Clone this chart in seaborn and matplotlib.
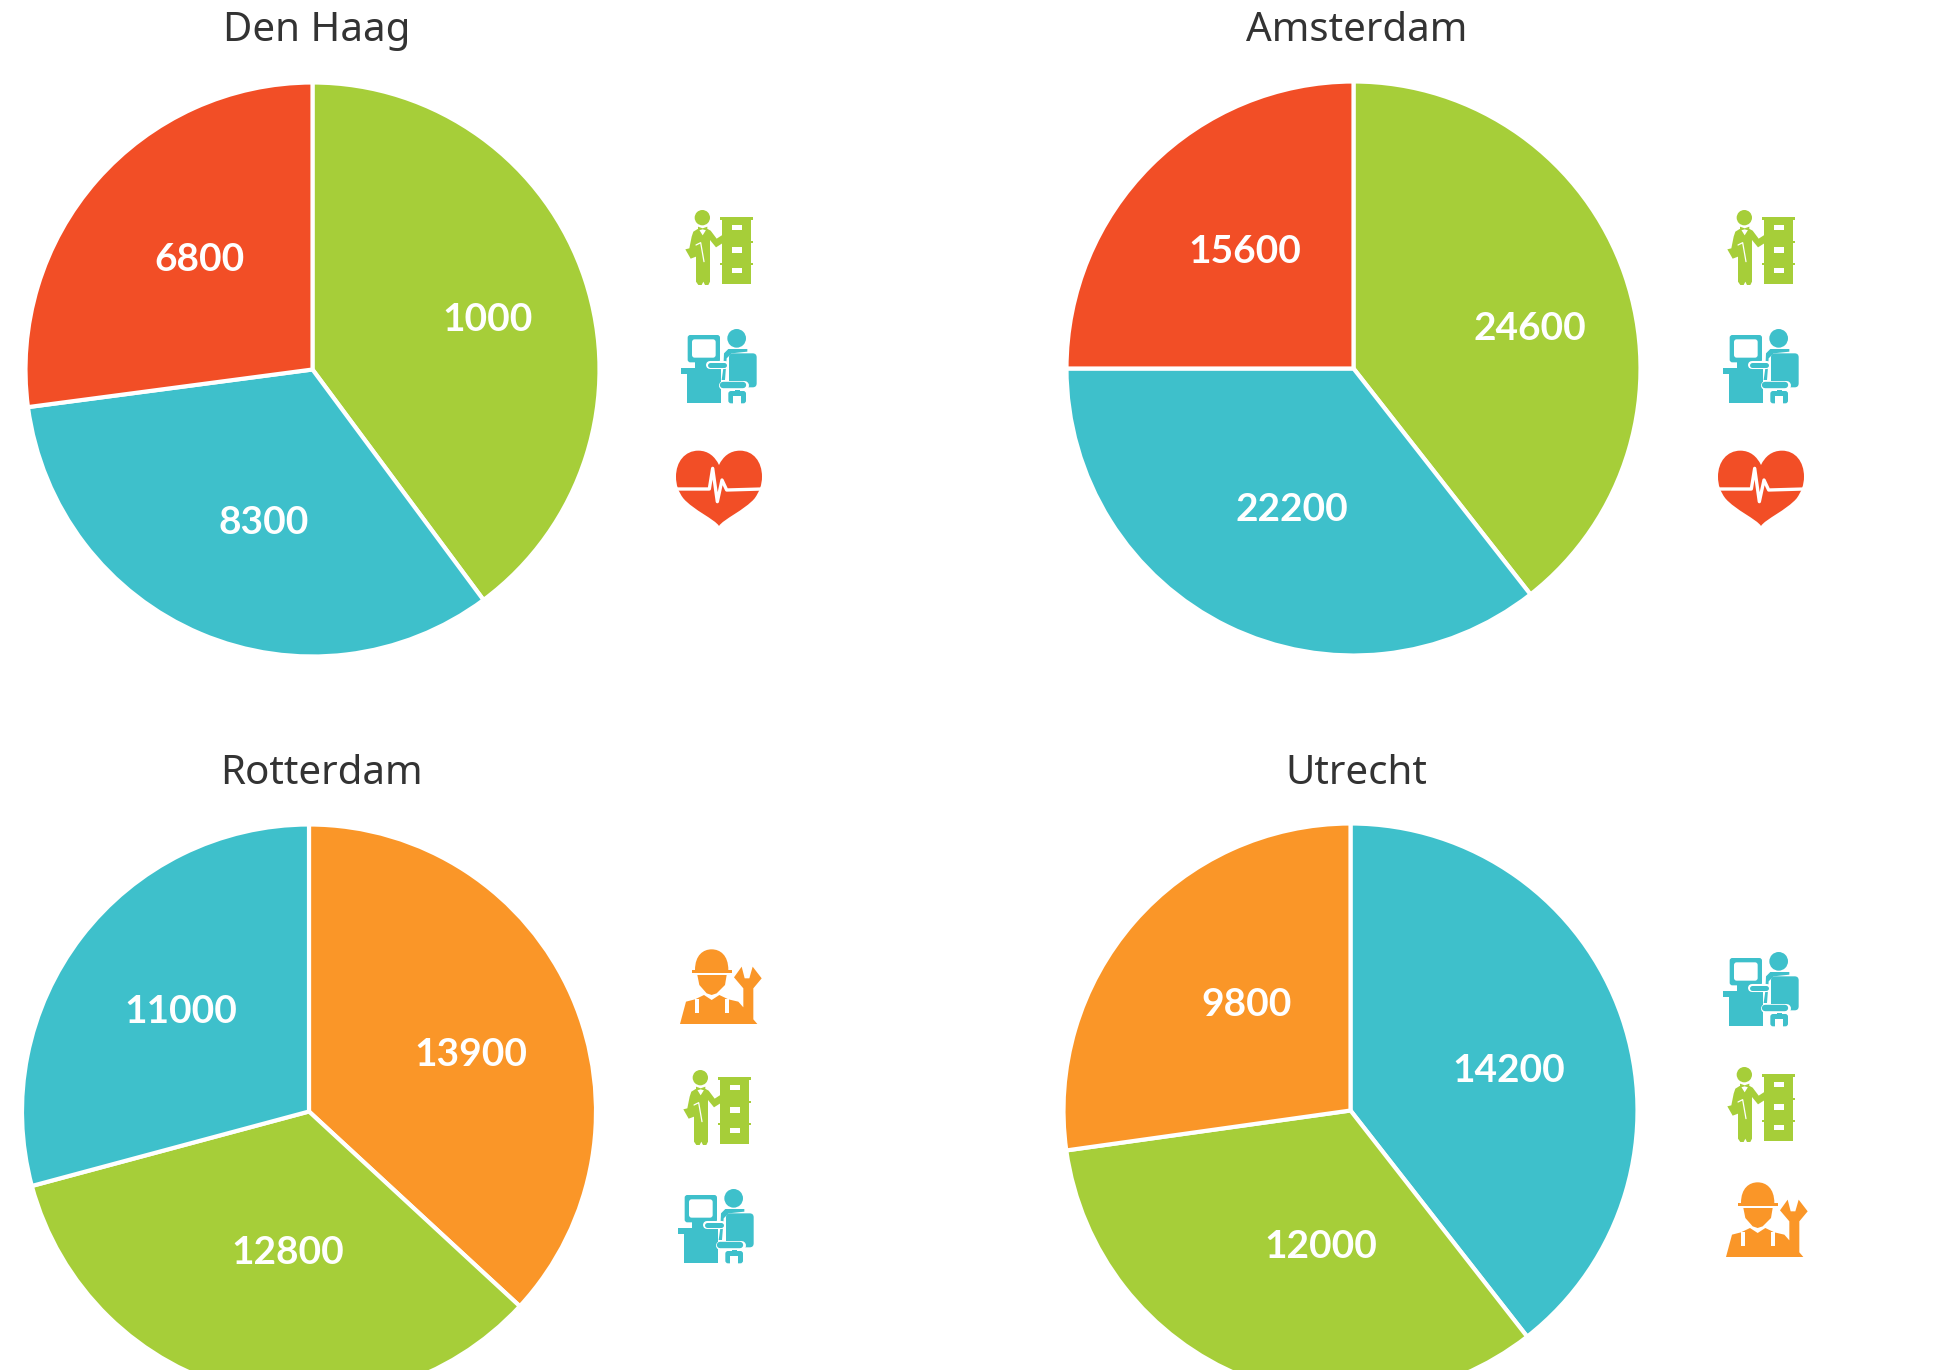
import matplotlib
matplotlib.use('Agg')
import matplotlib.pyplot as plt
import seaborn as sns
from matplotlib.patches import Circle, FancyBboxPatch, PathPatch, Polygon, Rectangle
from matplotlib.path import Path
from matplotlib.transforms import Affine2D

sns.set_theme(style='white')

# slice sizes, the printed labels differ in one place (Den Haag says 1000)
cities = ['Den Haag', 'Amsterdam', 'Rotterdam', 'Utrecht']
den_haag = [10000, 8300, 6800]
amsterdam = [24600, 22200, 15600]
rotterdam = [13900, 12800, 11000]
utrecht = [14200, 12000, 9800]
den_haag_labels = ['1000', '8300', '6800']
amsterdam_labels = ['24600', '22200', '15600']
rotterdam_labels = ['13900', '12800', '11000']
utrecht_labels = ['14200', '12000', '9800']
den_haag_sectors = ['office', 'it', 'care']
amsterdam_sectors = ['office', 'it', 'care']
rotterdam_sectors = ['tech', 'office', 'it']
utrecht_sectors = ['it', 'office', 'tech']

colors = {'office': '#A6CE39', 'it': '#3EC0CB', 'care': '#F24E26', 'tech': '#FA9628'}

W, H = 1950, 1370
R = 287
centers = [(312.5, 369.5), (1353.5, 368.5), (309, 1111.5), (1350.5, 1110.5)]
title_xy = [(317, 31), (1357, 31), (321, 774), (1356, 774)]
label_xy = [
    [(488, 319), (264, 522), (200, 259)],
    [(1530, 328), (1292, 509), (1245, 251)],
    [(471, 1055), (288, 1252), (181, 1011)],
    [(1509, 1071), (1321, 1246), (1247, 1004)],
]

values = [den_haag, amsterdam, rotterdam, utrecht]
labels = [den_haag_labels, amsterdam_labels, rotterdam_labels, utrecht_labels]
sectors = [den_haag_sectors, amsterdam_sectors, rotterdam_sectors, utrecht_sectors]

fig = plt.figure(figsize=(W / 100, H / 100), dpi=100, facecolor='white')

for i, city in enumerate(cities):
    cx, cy = centers[i]
    ax = fig.add_axes([(cx - R) / W, 1 - (cy + R) / H, 2 * R / W, 2 * R / H])
    ax.pie(values[i], colors=[colors[s] for s in sectors[i]], startangle=90, counterclock=False,
           radius=1, wedgeprops={'edgecolor': 'white', 'linewidth': 3})
    ax.set_xlim(-1, 1)
    ax.set_ylim(-1, 1)

# overlay in pixel coords for the text and the icons
ov = fig.add_axes([0, 0, 1, 1], zorder=5)
ov.set_xlim(0, W)
ov.set_ylim(H, 0)
ov.axis('off')

for i, city in enumerate(cities):
    ov.text(title_xy[i][0], title_xy[i][1], city, ha='center', va='center', fontsize=29,
            color='#333333', family='Noto Sans')
    for (x, y), lab in zip(label_xy[i], labels[i]):
        ov.text(x, y, lab, ha='center', va='center', fontsize=28, color='white',
                fontweight='bold', family='Lato')


def place(ox, oy):
    return Affine2D().scale(1 / 3).translate(ox, oy) + ov.transData


def rbox(x0, y0, x1, y1, r, color, tr):
    ov.add_patch(FancyBboxPatch((x0 + r, y0 + r), x1 - x0 - 2 * r, y1 - y0 - 2 * r,
                                boxstyle='round,pad=%d' % r, fc=color, ec='none', transform=tr))


def icon_office(ox, oy):
    c = colors['office']
    tr = place(ox, oy)
    ov.add_patch(Rectangle((187, 85), 85, 197, fc=c, ec='none', transform=tr))
    for y, h in [(80, 10), (152, 6), (219, 6)]:
        ov.add_patch(Rectangle((180, y), 100, h, fc=c, ec='none', transform=tr))
    for y in [105, 172, 234]:
        ov.add_patch(Rectangle((215, y), 30, 16, fc='white', ec='none', transform=tr))
    ov.add_patch(Circle((127, 83), 23, fc=c, ec='none', transform=tr))
    body = [(113, 117), (143, 117), (152, 122), (170, 146), (187, 135), (187, 160), (168, 172),
            (150, 150), (150, 275), (145, 285), (135, 285), (130, 275), (125, 285), (115, 285),
            (108, 275), (108, 200), (92, 206), (76, 178), (88, 175), (95, 140), (100, 125)]
    ov.add_patch(Polygon(body, fc=c, ec='none', transform=tr))
    ov.add_patch(Polygon([(113, 112), (143, 112), (128, 136)], fc='white', ec='none', transform=tr))
    ov.add_patch(Polygon([(114, 110), (128, 115), (142, 110), (142, 122), (128, 118), (114, 122)],
                         fc=c, ec='none', transform=tr))
    ov.plot([108, 122, 132], [165, 158, 215], color='white', lw=0.9, transform=tr)


def icon_it(ox, oy):
    c = colors['it']
    tr = place(ox, oy)
    rbox(83, 435, 180, 517, 8, c, tr)
    rbox(96, 448, 167, 503, 8, 'white', tr)
    ov.add_patch(Rectangle((80, 535), 103, 105, fc=c, ec='none', transform=tr))
    ov.add_patch(Rectangle((63, 535), 40, 17, fc=c, ec='none', transform=tr))
    ov.add_patch(Rectangle((105, 515), 35, 22, fc=c, ec='none', transform=tr))
    ov.add_patch(Circle((230, 445), 28, fc=c, ec='none', transform=tr))
    ov.add_patch(Polygon([(190, 535), (192, 490), (205, 477), (262, 477), (262, 485), (215, 490),
                          (200, 505), (195, 570), (185, 570)], fc=c, ec='none', transform=tr))
    ov.plot([150, 195], [526, 526], color='white', lw=5.8, solid_capstyle='round', transform=tr)
    ov.plot([150, 192], [526, 526], color=c, lw=3.6, solid_capstyle='round', transform=tr)
    rbox(207, 490, 290, 592, 12, c, tr)
    ov.plot([190, 252], [584, 584], color='white', lw=6.5, solid_capstyle='round', transform=tr)
    ov.plot([190, 250], [584, 584], color=c, lw=4.6, solid_capstyle='round', transform=tr)
    ov.add_patch(Rectangle((224, 590), 16, 15, fc=c, ec='none', transform=tr))
    rbox(205, 603, 258, 640, 8, c, tr)
    ov.add_patch(Rectangle((220, 618), 23, 23, fc='white', ec='none', transform=tr))


def icon_care(ox, oy):
    c = colors['care']
    tr = place(ox, oy)
    verts = [(177, 1008),
             (165, 988), (100, 960), (70, 925),
             (55, 905), (48, 885), (48, 860),
             (48, 815), (75, 782), (115, 782),
             (145, 782), (165, 800), (177, 825),
             (189, 800), (209, 782), (240, 782),
             (280, 782), (306, 815), (306, 860),
             (306, 885), (298, 905), (284, 925),
             (254, 960), (189, 988), (177, 1008)]
    codes = [Path.MOVETO] + [Path.CURVE4] * 24
    ov.add_patch(PathPatch(Path(verts, codes), fc=c, ec='none', transform=tr))
    ov.plot([48, 148, 158, 172, 186, 200, 306], [897, 897, 835, 935, 870, 900, 897], color='white', lw=2.4,
            solid_joinstyle='round', transform=tr)


def icon_tech(ox, oy):
    c = colors['tech']
    tr = place(ox, oy)
    dome = [(105, 120), (105, 75), (130, 58), (155, 58), (180, 58), (205, 75), (205, 120)]
    ov.add_patch(PathPatch(Path(dome, [Path.MOVETO] + [Path.CURVE4] * 6), fc=c, ec='none', transform=tr))
    ov.add_patch(Rectangle((95, 120), 122, 8, fc=c, ec='none', transform=tr))
    ov.add_patch(Polygon([(112, 135), (200, 135), (195, 165), (170, 190), (155, 195), (140, 190), (118, 165)],
                         fc=c, ec='none', transform=tr))
    body = [(60, 282), (78, 215), (105, 208), (132, 195), (155, 210), (178, 195), (205, 208), (235, 215),
            (250, 232), (250, 175), (222, 142), (245, 110), (254, 145), (268, 145), (278, 110), (305, 145),
            (280, 175), (280, 268), (292, 282)]
    ov.add_patch(Polygon(body, fc=c, ec='none', transform=tr))
    for x in [105, 195]:
        ov.add_patch(Rectangle((x, 208), 13, 40, fc='white', ec='none', transform=tr))


# (icon, x origin, y origin) for each city
icons = [
    (icon_office, 660, 190), (icon_it, 660, 190), (icon_care, 660, 190),
    (icon_office, 1702, 190), (icon_it, 1702, 190), (icon_care, 1702, 190),
    (icon_tech, 660, 930), (icon_office, 658, 1050), (icon_it, 657, 1050),
    (icon_it, 1702, 813), (icon_office, 1702, 1047), (icon_tech, 1706, 1163),
]
for fn, ox, oy in icons:
    fn(ox, oy)

ov.set_xlim(0, W)
ov.set_ylim(H, 0)
fig.savefig('out.png', dpi=100)
